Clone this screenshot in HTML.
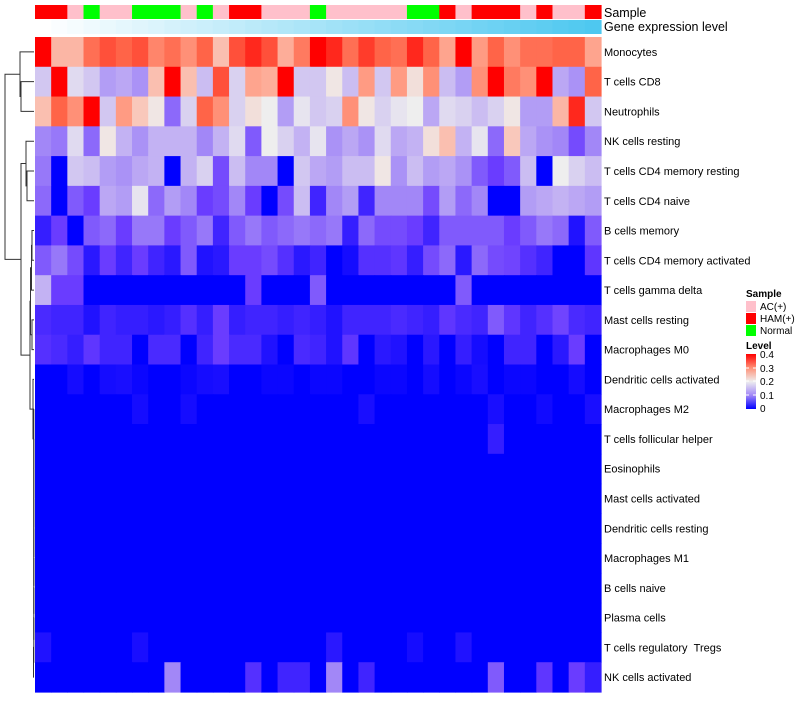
<!DOCTYPE html>
<html><head><meta charset="utf-8"><style>
body{margin:0;background:#fff;width:800px;height:700px;overflow:hidden;font-family:"Liberation Sans",sans-serif}
svg text{font-family:"Liberation Sans",sans-serif}
</style></head><body>
<svg id="chart" width="800" height="700" viewBox="0 0 800 700" xmlns="http://www.w3.org/2000/svg">
<g id="dendro" stroke="#333" stroke-width="1" fill="none"></g>
<g id="sampleBar"></g>
<g id="geneBar"></g>
<g id="cells"></g>
<g id="labels" font-size="11" fill="#000"></g>
<text x="604" y="17" font-size="12.5">Sample</text>
<text x="604" y="31" font-size="12.5">Gene expression level</text>
<g font-size="10">
<text x="746" y="297" font-weight="bold">Sample</text>
<rect x="746" y="301" width="10" height="11" fill="#ffc0cb"/>
<text x="760" y="310">AC(+)</text>
<rect x="746" y="313" width="10" height="11" fill="#ff0000"/>
<text x="760" y="322">HAM(+)</text>
<rect x="746" y="325" width="10" height="11" fill="#00ff00"/>
<text x="760" y="334">Normal</text>
<text x="746" y="349" font-weight="bold">Level</text>
<defs><linearGradient id="lg" x1="0" y1="0" x2="0" y2="1">
<stop offset="0" stop-color="#ff0000"/><stop offset="0.25" stop-color="#ff8f75"/><stop offset="0.5" stop-color="#eeeeee"/><stop offset="0.75" stop-color="#a287f7"/><stop offset="1" stop-color="#0000ff"/></linearGradient></defs>
<rect x="746" y="354" width="10" height="55" fill="url(#lg)"/>
<g stroke="#fff" stroke-width="1"><line x1="746" x2="749" y1="368" y2="368"/><line x1="753" x2="756" y1="368" y2="368"/><line x1="746" x2="749" y1="381" y2="381"/><line x1="753" x2="756" y1="381" y2="381"/><line x1="746" x2="749" y1="395" y2="395"/><line x1="753" x2="756" y1="395" y2="395"/></g>
<text x="760" y="358">0.4</text>
<text x="760" y="372">0.3</text>
<text x="760" y="385">0.2</text>
<text x="760" y="399">0.1</text>
<text x="760" y="412">0</text>
</g>
</svg>
<script>
const rowNames=["Monocytes","T cells CD8","Neutrophils","NK cells resting","T cells CD4 memory resting","T cells CD4 naive","B cells memory","T cells CD4 memory activated","T cells gamma delta","Mast cells resting","Macrophages M0","Dendritic cells activated","Macrophages M2","T cells follicular helper","Eosinophils","Mast cells activated","Dendritic cells resting","Macrophages M1","B cells naive","Plasma cells","T cells regulatory \u00a0Tregs","NK cells activated"];
const sampleGroups=["H","H","A","N","A","A","N","N","N","A","N","A","H","H","A","A","A","N","A","A","A","A","A","N","N","H","A","H","H","H","A","H","A","A","H"];
const r1=[0.4,0.27,0.27,0.34,0.36,0.35,0.36,0.32,0.34,0.31,0.35,0.26,0.36,0.38,0.36,0.28,0.33,0.4,0.38,0.34,0.37,0.35,0.34,0.38,0.35,0.29,0.4,0.3,0.35,0.31,0.34,0.34,0.35,0.35,0.29];
const r2=[0.16,0.4,0.18,0.16,0.12,0.13,0.11,0.26,0.4,0.26,0.15,0.36,0.17,0.29,0.28,0.4,0.16,0.16,0.21,0.15,0.3,0.16,0.3,0.22,0.31,0.15,0.12,0.31,0.4,0.33,0.31,0.4,0.13,0.11,0.35];
const r3=[0.26,0.35,0.31,0.4,0.16,0.3,0.25,0.21,0.08,0.17,0.35,0.31,0.17,0.22,0.2,0.12,0.19,0.16,0.17,0.31,0.21,0.17,0.19,0.2,0.13,0.18,0.17,0.15,0.17,0.21,0.12,0.12,0.27,0.38,0.16];
const r4=[0.1,0.09,0.18,0.08,0.21,0.14,0.11,0.14,0.14,0.14,0.1,0.14,0.18,0.07,0.2,0.17,0.14,0.19,0.11,0.13,0.11,0.18,0.13,0.14,0.22,0.26,0.14,0.19,0.08,0.25,0.13,0.11,0.1,0.06,0.1];
const r5=[0.09,0,0.16,0.15,0.12,0.11,0.13,0.14,0,0.14,0.17,0.06,0.15,0.1,0.1,0,0.16,0.13,0.12,0.15,0.15,0.21,0.11,0.15,0.12,0.13,0.11,0.07,0.05,0.07,0.15,0,0.2,0.17,0.15];
const r6=[0.08,0,0.07,0.05,0.13,0.12,0.19,0.08,0.12,0.1,0.05,0.06,0.1,0.05,0,0.06,0.15,0.03,0.1,0.12,0.03,0.1,0.1,0.1,0.06,0.12,0.08,0.1,0,0,0.12,0.13,0.14,0.13,0.12];
const r7=[0.025,0.05,0,0.07,0.08,0.05,0.09,0.09,0.05,0.07,0.09,0.03,0.07,0.09,0.07,0.08,0.09,0.08,0.09,0.025,0.08,0.06,0.06,0.05,0.03,0.07,0.07,0.07,0.07,0.05,0.07,0.09,0.08,0.015,0.07];
const r8=[0.07,0.09,0.06,0.02,0.05,0.03,0.05,0.03,0.02,0.07,0.015,0.02,0.05,0.05,0.06,0.04,0.02,0.03,0,0.01,0.04,0.04,0.045,0.025,0.06,0.08,0.02,0.08,0.06,0.055,0.04,0.03,0,0,0.045];
const r9=[0.14,0.05,0.05,0,0,0,0,0,0,0,0,0,0,0.05,0,0,0,0.07,0,0,0,0,0,0,0,0,0.07,0,0,0,0,0,0,0,0];
const r10=[0.035,0.03,0.03,0.015,0.03,0.025,0.025,0.02,0.025,0.04,0.025,0.05,0.025,0.03,0.03,0.025,0.03,0.025,0.015,0.03,0.03,0.03,0.035,0.03,0.025,0.045,0.035,0.03,0.07,0.045,0.03,0.04,0.055,0.035,0.03];
const r11=[0.04,0.035,0.025,0.045,0.03,0.03,0,0.035,0.035,0,0.03,0.05,0.035,0.035,0.015,0,0.035,0.03,0.015,0.045,0,0.02,0.015,0,0.02,0,0.025,0.01,0,0.03,0.03,0,0.02,0.05,0];
const r12=[0,0,0.01,0,0.01,0.012,0.005,0,0,0.005,0.01,0.012,0,0,0.005,0.005,0,0.005,0.005,0,0,0.005,0.005,0,0.01,0,0.005,0.012,0,0.005,0.005,0,0,0.01,0];
const r13=[0,0,0,0,0,0,0.01,0,0,0.01,0,0,0,0,0,0,0,0,0,0,0.012,0,0,0,0,0,0,0,0.012,0,0,0.008,0,0,0.012];
const r14=[0,0,0,0,0,0,0,0,0,0,0,0,0,0,0,0,0,0,0,0,0,0,0,0,0,0,0,0,0.025,0,0,0,0,0,0];
const r15=Array(35).fill(0),r16=Array(35).fill(0),r17=Array(35).fill(0),r18=Array(35).fill(0),r19=Array(35).fill(0),r20=Array(35).fill(0);
const r21=[0.015,0,0,0,0,0,0.012,0,0,0,0,0,0,0,0,0,0,0,0.02,0,0,0,0,0.01,0,0,0.015,0,0,0,0,0,0,0,0];
const r22=[0,0,0,0,0,0,0,0,0.1,0,0,0,0,0.04,0,0.03,0.03,0,0.1,0,0.03,0,0,0,0,0,0,0,0.07,0,0,0.045,0,0.05,0.025];
const values=[r1,r2,r3,r4,r5,r6,r7,r8,r9,r10,r11,r12,r13,r14,r15,r16,r17,r18,r19,r20,r21,r22];

const NS="http://www.w3.org/2000/svg";
const X0=35,X1=601,Y0=37,Y1=692;
const nC=35,nR=rowNames.length,cw=(X1-X0)/nC,rh=(Y1-Y0)/nR;
const xPos=c=>X0+c*cw, yPos=r=>Y0+r*rh;
const stops=[[0,[0,0,255]],[0.05,[106,60,255]],[0.1,[162,135,247]],[0.15,[203,189,242]],[0.2,[238,238,238]],[0.25,[249,200,187]],[0.3,[255,155,131]],[0.35,[255,100,72]],[0.4,[255,0,0]]];
function col(v){v=Math.max(0,Math.min(0.4,v));for(let i=1;i<stops.length;i++){if(v<=stops[i][0]){const a=stops[i-1],b=stops[i],t=(v-a[0])/(b[0]-a[0]);return"rgb("+a[1].map((x,k)=>Math.round(x+(b[1][k]-x)*t)).join(",")+")";}}return"rgb(255,0,0)";}
function mk(t,a,p){const e=document.createElementNS(NS,t);for(const k in a)e.setAttribute(k,a[k]);p.appendChild(e);return e;}
const gc=document.getElementById('cells');
values.forEach((row,r)=>row.forEach((v,c)=>{
 const e=mk('rect',{x:xPos(c),y:yPos(r),width:cw+0.6,height:rh+0.6,fill:col(v)},gc);
 
 
}));
const sc={A:"#ffc0cb",H:"#ff0000",N:"#00ff00"};
const sb=document.getElementById('sampleBar'),gb=document.getElementById('geneBar');
sampleGroups.forEach((g,c)=>{
 const e=mk('rect',{x:xPos(c),y:5,width:cw+0.6,height:14,fill:sc[g]},sb);
 
 
 const t=c/(nC-1);
 const f=mk('rect',{x:xPos(c),y:20,width:cw+0.6,height:14,fill:"rgb("+Math.round(255-177*t)+","+Math.round(255-55*t)+","+Math.round(255-15*t)+")"},gb);
 
 
});
const gl=document.getElementById('labels');
rowNames.forEach((n,r)=>{
 const e=mk('text',{x:604,y:yPos(r)+rh/2+4},gl);e.textContent=n;
 
 
});
const gd=document.getElementById('dendro');
function leaf(i){return{x:34,y:yPos(i)+rh/2};}
function merge(a,b,h){mk('path',{d:`M${a.x},${a.y}H${h}V${b.y}H${b.x}`},gd);return{x:h,y:(a.y+b.y)/2};}
const A=merge(leaf(1),leaf(2),21);
const B=merge(leaf(0),A,20);
const C=merge(leaf(4),leaf(5),27);
const D=merge(leaf(3),C,26);
const F=merge(leaf(6),leaf(7),32);
const I=merge(F,leaf(8),31.5);
const H=merge(leaf(9),leaf(10),32);
const J=merge(I,H,30.5);
let k=merge(leaf(20),leaf(21),33.5);
for(let i=19;i>=12;i--)k=merge(leaf(i),k,33.8);
const K=merge(leaf(11),k,33);
const L=merge(J,K,30);
const M=merge(D,L,21);
merge(B,M,5);
</script>
</body></html>
